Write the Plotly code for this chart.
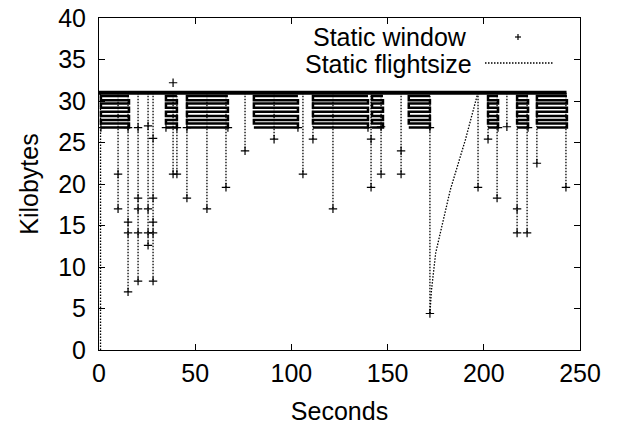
import plotly.graph_objects as go

# ---------------- data ----------------
# dense sawtooth regions of the flightsize (seconds)
band_start = [1.0, 34.8, 45.7, 80.5, 111.2, 141.9, 161.0, 202.2, 217.3, 227.6]
band_end = [15.6, 40.5, 67.0, 103.4, 139.8, 147.6, 172.0, 207.4, 223.0, 243.2]
band_levels = [26.8, 27.3, 27.7, 28.2, 28.7, 29.2, 29.7, 30.1, 30.6]

# window plateau (Kilobytes)
plateau_t = [0.0, 243.0]
plateau_v = [31.0, 31.0]

# flightsize startup
startup_t = [0.8, 0.8]
startup_v = [0.0, 31.0]

# flightsize drops: time and minimum value
drop_t = [9.9, 15.1, 20.3, 25.5, 28.1, 38.5, 40.5, 45.7, 56.1, 66.0, 75.9, 91.0,
          106.0, 111.2, 121.6, 141.4, 146.6, 157.0, 172.0, 197.0, 202.2, 206.9,
          212.0, 217.3, 222.5, 227.6, 242.7]
drop_min = [17.0, 7.0, 8.3, 12.6, 8.3, 21.2, 21.2, 18.3, 17.0, 19.6, 24.0, 25.4,
            21.2, 25.4, 17.0, 19.6, 21.2, 21.2, 4.4, 19.6, 25.4, 18.3,
            26.9, 14.1, 14.1, 22.5, 19.6]
drop_top = 31.0

# slow recovery after the timeout
ramp_t = [172.0, 172.8, 175.0, 182.6, 190.4, 195.6, 196.6]
ramp_v = [4.4, 7.2, 11.7, 19.3, 25.3, 30.1, 30.7]

# isolated window samples
win_t = [9.9, 9.9,
         15.1, 15.1, 15.1,
         20.3, 20.3, 20.3, 20.3,
         25.5, 25.5, 25.5, 25.5,
         28.1, 28.1, 28.1, 28.1, 28.1,
         38.5, 38.5, 40.5,
         45.7, 56.1, 66.0, 75.9, 91.0,
         106.0, 111.2, 121.6, 141.4, 141.4,
         146.6, 146.6, 157.0, 157.0, 172.0,
         197.0, 202.2, 206.9, 212.0, 217.3, 217.3,
         222.5, 227.6, 242.7,
         1.0, 15.1, 20.3, 34.8, 40.5, 45.7, 67.0, 103.4, 139.8, 172.0, 207.4, 223.0]
win_v = [21.2, 17.0,
         15.4, 14.1, 7.0,
         18.3, 17.0, 14.1, 8.3,
         27.0, 17.0, 14.1, 12.6,
         25.5, 18.3, 15.4, 14.1, 8.3,
         32.2, 21.2, 21.2,
         18.3, 17.0, 19.6, 24.0, 25.4,
         21.2, 25.4, 17.0, 25.4, 19.6,
         26.9, 21.2, 24.0, 21.2, 4.4,
         19.6, 25.4, 18.3, 26.9, 17.0, 14.1,
         14.1, 22.5, 19.6,
         26.8, 26.8, 26.8, 26.8, 26.8, 26.8, 26.8, 26.8, 26.8, 26.8, 26.8, 26.8]

x_ticks = [0, 50, 100, 150, 200, 250]
y_ticks = [0, 5, 10, 15, 20, 25, 30, 35, 40]

# ---------------- build traces ----------------
FONT = "Liberation Sans, Arial, Helvetica, sans-serif"
FS = 25

# stripes of the dense sawtooth
sx, sy = [], []
for a, b in zip(band_start, band_end):
    for i, lvl in enumerate(band_levels):
        if i % 2 == 0:
            sx += [a, b]
        else:
            sx += [b, a]
        sy += [lvl, lvl]
    sx.append(None)
    sy.append(None)

# dotted flightsize excursions
fx = list(startup_t) + [None]
fy = list(startup_v) + [None]
for t, m in zip(drop_t, drop_min):
    fx += [t, t, None]
    fy += [drop_top, m, None]
fx += ramp_t
fy += ramp_v

fig = go.Figure()
fig.add_trace(go.Scatter(x=sx, y=sy, mode="lines", showlegend=False,
                         line=dict(color="black", width=2.5), hoverinfo="skip"))
fig.add_trace(go.Scatter(x=fx, y=fy, mode="lines", name="Static flightsize", showlegend=False,
                         line=dict(color="black", width=1.3, dash="1.5px,1.5px")))
fig.add_trace(go.Scatter(x=plateau_t, y=plateau_v, mode="lines", showlegend=False,
                         line=dict(color="black", width=4)))
fig.add_trace(go.Scatter(x=win_t, y=win_v, mode="markers", name="Static window", showlegend=False,
                         marker=dict(symbol="cross-thin", size=6, color="black",
                                     line=dict(color="black", width=1.2))))

axis_common = dict(showline=True, linecolor="black", linewidth=1, mirror="allticks",
                   ticks="inside", ticklen=6, tickcolor="black", tickwidth=1,
                   showgrid=False, zeroline=False, automargin=False,
                   ticklabeloverflow="allow",
                   tickfont=dict(family=FONT, size=FS, color="black"))

fig.update_layout(
    width=618, height=431,
    margin=dict(l=99, r=38, t=18, b=81),
    paper_bgcolor="white", plot_bgcolor="white",
    showlegend=False,
    xaxis=dict(range=[0, 250], tickvals=x_ticks, ticklabelstandoff=1,
               title=dict(text="Seconds", font=dict(family=FONT, size=FS, color="black"), standoff=16),
               **axis_common),
    yaxis=dict(range=[0, 40], tickvals=y_ticks, ticklabelstandoff=7,
               title=dict(text="Kilobytes", font=dict(family=FONT, size=FS, color="black"), standoff=12),
               **axis_common),
)

# legend drawn gnuplot-style: text on the left, sample on the right
def px(xp):
    return (xp - 99) / 481


def py(yp):
    return (350 - yp) / 332


LFS = 25
fig.add_annotation(xref="paper", yref="paper", x=px(468), y=py(36.5),
                   text="Static window", showarrow=False, xanchor="right", yanchor="middle",
                   borderpad=0, font=dict(family=FONT, size=LFS, color="black"))
fig.add_annotation(xref="paper", yref="paper", x=px(473), y=py(64.5),
                   text="Static flightsize", showarrow=False, xanchor="right", yanchor="middle",
                   borderpad=0, font=dict(family=FONT, size=LFS, color="black"))
fig.add_shape(type="line", xref="paper", yref="paper",
              x0=px(485), x1=px(553), y0=py(63), y1=py(63),
              line=dict(color="black", width=1.3, dash="1.5px,1.5px"))
cx, cy = px(518), py(37)
fig.add_shape(type="line", xref="paper", yref="paper", xsizemode="pixel", ysizemode="pixel",
              xanchor=cx, yanchor=cy, x0=-3, x1=3, y0=0, y1=0, line=dict(color="black", width=1.2))
fig.add_shape(type="line", xref="paper", yref="paper", xsizemode="pixel", ysizemode="pixel",
              xanchor=cx, yanchor=cy, x0=0, x1=0, y0=-3, y1=3, line=dict(color="black", width=1.2))

# remove the default page margin so the figure fills the window exactly
fig.write_html("out.html", config={"displayModeBar": False},
               post_script="document.body.style.margin='0';")
